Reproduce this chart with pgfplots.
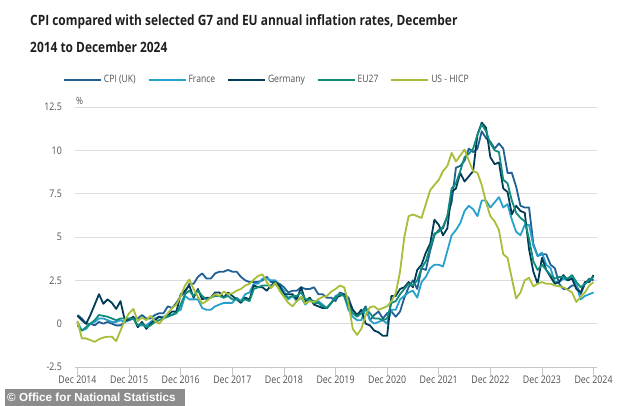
\documentclass[border=0pt]{standalone}
\usepackage{pgfplots}
\pgfplotsset{compat=1.18}
\usepackage{pgfplotstable}
\usepackage{fontspec}
\setmainfont{Open Sans}[FakeStretch=0.84]
\newfontfamily\footfont{Liberation Sans}
\definecolor{ukc}{HTML}{206095}
\definecolor{frc}{HTML}{27A0CC}
\definecolor{dec}{HTML}{003C57}
\definecolor{euc}{HTML}{118C7B}
\definecolor{usc}{HTML}{A8BD3A}
\definecolor{txt}{HTML}{505050}
\definecolor{gridc}{HTML}{DCDCDC}
\definecolor{axc}{HTML}{C2C7CC}
\definecolor{footc}{HTML}{8C8C8C}
\pgfplotstableread{
m uk fr de eu us
0 0.5 0.1 0.45 -0.1 0.15
1 0.3 -0.4 0.2 -0.4 -0.85
2 0.0 -0.3 0.0 -0.2 -0.85
3 0.0 0.0 0.5 0.0 -0.95
4 -0.1 0.1 1.1 0.2 -1.05
5 0.1 0.3 1.7 0.5 -0.9
6 0.0 0.3 1.15 0.45 -0.8
7 0.1 0.2 1.4 0.4 -0.75
8 0.0 0.1 1.2 0.3 -0.75
9 -0.1 0.1 0.85 0.2 -1.0
10 -0.1 0.2 1.3 0.3 -0.4
11 0.1 0.1 0.2 0.3 0.2
12 0.2 0.3 0.25 0.3 0.6
13 0.3 0.3 0.4 0.3 0.85
14 0.3 -0.1 -0.2 -0.1 0.15
15 0.5 -0.1 0.1 0.0 0.35
16 0.3 -0.1 -0.3 -0.2 0.2
17 0.3 0.1 0.0 -0.1 0.45
18 0.5 0.3 0.2 0.1 0.15
19 0.6 0.4 0.4 0.2 0.0
20 0.6 0.4 0.3 0.3 0.3
21 1.0 0.5 0.5 0.4 0.6
22 0.9 0.5 0.7 0.5 0.9
23 1.2 0.7 0.7 0.6 1.1
24 1.6 0.8 1.7 1.1 1.6
25 1.8 1.6 1.9 1.7 2.2
26 2.3 1.4 2.2 1.9 2.55
27 2.3 1.4 1.5 1.6 2.0
28 2.7 1.4 2.0 1.9 1.55
29 2.9 0.9 1.4 1.6 1.15
30 2.6 0.8 1.5 1.4 1.3
31 2.6 0.8 1.5 1.5 1.5
32 2.9 1.0 1.8 1.6 1.7
33 3.0 1.1 1.8 1.6 1.6
34 3.0 1.2 1.5 1.5 1.85
35 3.1 1.2 1.8 1.6 1.7
36 3.0 1.2 1.6 1.4 1.75
37 3.0 1.5 1.4 1.4 1.9
38 2.7 1.3 1.2 1.3 2.0
39 2.5 1.7 1.5 1.4 2.2
40 2.4 1.8 1.4 1.3 2.3
41 2.4 2.3 2.2 2.0 2.55
42 2.4 2.3 2.1 2.1 2.75
43 2.5 2.6 2.1 2.2 2.85
44 2.7 2.6 1.9 2.2 2.4
45 2.4 2.5 2.2 2.2 2.05
46 2.4 2.5 2.4 2.3 2.35
47 2.3 2.2 2.2 2.0 1.9
48 2.1 1.9 1.7 1.6 1.55
49 1.8 1.4 1.7 1.5 1.2
50 1.9 1.6 1.7 1.6 1.0
51 1.9 1.3 1.4 1.6 1.3
52 2.1 1.5 2.1 1.8 1.55
53 2.0 1.1 1.3 1.4 1.15
54 2.0 1.4 1.5 1.4 1.3
55 2.1 1.3 1.1 1.2 1.25
56 1.7 1.3 1.0 1.2 1.4
57 1.7 1.1 0.9 1.0 1.55
58 1.5 0.9 0.9 0.9 1.6
59 1.5 1.2 1.2 1.2 1.85
60 1.3 1.6 1.5 1.5 2.0
61 1.8 1.7 1.6 1.7 2.2
62 1.7 1.6 1.7 1.6 2.1
63 1.5 0.8 1.3 1.0 1.2
64 0.8 0.4 0.8 0.6 -0.3
65 0.5 0.2 0.5 0.4 -0.65
66 0.6 0.2 0.8 0.6 -0.3
67 1.0 0.9 0.0 0.9 0.5
68 0.2 0.2 -0.1 0.6 0.95
69 0.5 0.0 -0.4 0.3 1.0
70 0.7 0.1 -0.5 0.3 0.8
71 0.3 0.2 -0.7 0.2 0.9
72 0.6 0.0 -0.7 0.3 1.0
73 0.7 0.8 1.6 1.2 1.3
74 0.4 0.8 1.6 1.3 1.75
75 0.7 1.4 2.0 1.7 3.0
76 1.5 1.6 2.1 2.0 5.0
77 2.1 1.8 2.4 2.3 6.2
78 2.5 1.9 2.1 2.2 6.3
79 2.0 1.5 3.1 2.5 6.2
80 3.2 2.4 3.4 3.2 6.1
81 3.1 2.7 4.1 3.6 6.9
82 4.2 3.2 4.6 4.4 7.7
83 5.1 3.4 6.0 5.2 8.0
84 5.4 3.4 5.7 5.3 8.3
85 5.5 3.3 5.1 5.6 8.8
86 6.2 4.2 5.5 6.2 9.1
87 7.0 5.1 7.6 7.8 9.85
88 9.0 5.4 7.8 8.1 9.35
89 9.1 5.8 8.7 8.8 9.7
90 9.4 6.5 8.2 9.6 10.05
91 10.1 6.8 8.5 9.8 9.4
92 9.9 6.6 8.8 10.1 8.8
93 10.1 6.2 10.9 10.9 8.7
94 11.1 7.1 11.6 11.5 8.0
95 10.7 7.1 11.3 11.1 7.0
96 10.5 6.7 9.6 10.4 6.2
97 10.1 7.0 9.2 10.0 5.9
98 10.4 7.3 9.3 9.9 5.4
99 10.1 6.7 7.8 8.3 4.0
100 8.7 6.9 7.6 8.1 3.8
101 8.7 6.0 6.3 7.1 2.6
102 7.9 5.3 6.8 6.4 1.45
103 6.8 5.1 6.5 6.1 1.8
104 6.7 5.7 6.4 5.9 2.5
105 6.7 5.7 4.3 4.9 2.65
106 4.6 4.5 3.0 3.6 2.15
107 3.9 3.9 2.3 3.1 2.3
108 4.0 4.1 3.8 3.4 2.4
109 4.0 3.4 3.1 3.1 2.3
110 3.4 3.2 2.7 2.8 2.3
111 3.2 2.4 2.3 2.6 2.2
112 2.3 2.4 2.4 2.7 2.15
113 2.0 2.6 2.8 2.7 2.1
114 2.0 2.5 2.5 2.6 1.95
115 2.2 2.7 2.6 2.8 1.8
116 2.2 2.2 2.0 2.4 1.25
117 1.7 1.4 1.8 2.1 1.55
118 2.3 1.6 2.4 2.3 1.8
119 2.6 1.7 2.4 2.5 2.2
120 2.5 1.8 2.8 2.7 2.4
}\datatable
\begin{document}
\begin{tikzpicture}[x=1pt,y=1pt]
\path[use as bounding box] (0,0) rectangle (634,406);
\node[anchor=base west, inner sep=0pt, font=\bfseries\fontsize{14.2}{16}\selectfont, text=black!88] at (30,380) {CPI compared with selected G7 and EU annual inflation rates, December};
\node[anchor=base west, inner sep=0pt, font=\bfseries\fontsize{14.2}{16}\selectfont, text=black!88] at (30,353) {2014 to December 2024};
\begin{axis}[
  at={(75pt,39pt)}, anchor=south west,
  scale only axis, width=522pt, height=260pt,
  xmin=-0.58, xmax=120.8, ymin=-2.5, ymax=12.5,
  axis x line*=bottom, axis y line*=left,
  x axis line style={draw=axc, line width=0.8pt, -},
  y axis line style={draw=none},
  xtick={0,12,...,120},
  xticklabels={Dec 2014,Dec 2015,Dec 2016,Dec 2017,Dec 2018,Dec 2019,Dec 2020,Dec 2021,Dec 2022,Dec 2023,Dec 2024},
  ytick={-2.5,0,2.5,5,7.5,10,12.5},
  yticklabels={-2.5,0,2.5,5,7.5,10,12.5},
  tick align=outside, major tick length=8pt,
  x tick style={draw=axc, line width=0.8pt},
  y tick style={draw=none},
  ymajorgrids, major grid style={draw=gridc, line width=0.8pt},
  ticklabel style={font=\fontsize{10.5}{12}\selectfont, text=txt},
  xticklabel style={inner sep=1pt},
  yticklabel style={inner sep=0pt, xshift=-5pt},
  ylabel={\%},
  every axis y label/.style={at={(axis description cs:0.002,1.0)}, anchor=south west, inner sep=0pt, yshift=2pt, font=\fontsize{10}{12}\selectfont, text=txt},
  legend columns=5,
  legend style={at={(axis description cs:-0.023,1.104)}, anchor=west, draw=none, fill=none, inner sep=0pt, font=\fontsize{10.2}{12}\selectfont, text=txt, /tikz/every even column/.append style={column sep=10pt}},
  legend image code/.code={\draw[#1] (0pt,0pt) -- (37pt,0pt);},
  every axis plot/.append style={line width=1.8pt, line join=round},
]
\addplot[color=ukc] table[x=m,y=uk] {\datatable};
\addlegendentry{CPI (UK)}
\addplot[color=frc] table[x=m,y=fr] {\datatable};
\addlegendentry{France}
\addplot[color=dec] table[x=m,y=de] {\datatable};
\addlegendentry{Germany}
\addplot[color=euc] table[x=m,y=eu] {\datatable};
\addlegendentry{EU27}
\addplot[color=usc] table[x=m,y=us] {\datatable};
\addlegendentry{US - HICP}
\end{axis}
\fill[footc] (5,0) rectangle (185,17);
\node[anchor=base west, inner sep=0pt, text=white, font=\footfont\bfseries\fontsize{11.7}{13}\selectfont] at (7,4.5) {\textcopyright{} Office for National Statistics};
\end{tikzpicture}
\end{document}
